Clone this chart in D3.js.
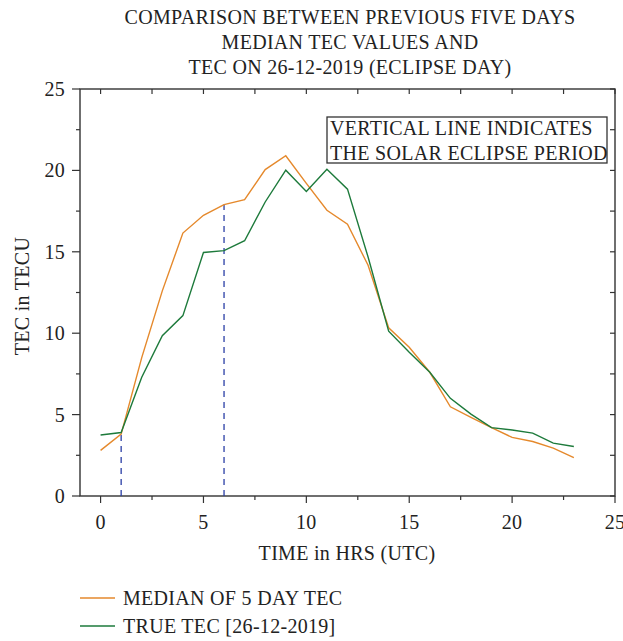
<!DOCTYPE html>
<html>
<head>
<meta charset="utf-8">
<script src="https://cdn.jsdelivr.net/npm/d3@7"></script>
<style>
  body { margin: 0; background: #fff; }
  svg text { font-family: "Liberation Serif", "Times New Roman", serif; fill: #222; font-size: 20px; letter-spacing: 0.3px; }
</style>
</head>
<body>
<svg width="623" height="641"></svg>
<script>
// hourly TEC
const hours = [0, 1, 2, 3, 4, 5, 6, 7, 8, 9, 10, 11, 12, 13, 14, 15, 16, 17, 18, 19, 20, 21, 22, 23]
const medianTec = [2.8, 3.8, 8.5, 12.6, 16.15, 17.24, 17.9, 18.2, 20.05, 20.9, 19.2, 17.55, 16.7, 14.17, 10.33, 9.14, 7.6, 5.48, 4.83, 4.2, 3.6, 3.35, 2.94, 2.36]
const trueTec = [3.75, 3.9, 7.3, 9.85, 11.08, 14.96, 15.07, 15.68, 18.06, 20.01, 18.7, 20.07, 18.85, 14.68, 10.12, 8.83, 7.6, 6.0, 5.03, 4.2, 4.05, 3.86, 3.25, 3.04]
const eclipseHours = [1, 6]
const xTicks = [0, 5, 10, 15, 20, 25]
const yTicks = [0, 5, 10, 15, 20, 25]
const minorTicks = [0, 2.5, 5, 7.5, 10, 12.5, 15, 17.5, 20, 22.5, 25]
const titleLines = ["COMPARISON BETWEEN PREVIOUS FIVE DAYS", "MEDIAN TEC VALUES AND", "TEC ON 26-12-2019 (ECLIPSE DAY)"]
const noteLines = ["VERTICAL LINE INDICATES", "THE SOLAR ECLIPSE PERIOD"]
const seriesNames = ["MEDIAN OF 5 DAY TEC", "TRUE TEC [26-12-2019]"]

const orange = "#e5892c", green = "#1d7a3b", blue = "#2b3fa6", frame = "#333"

const svg = d3.select("svg")
const pLeft = 80, pRight = 615, pTop = 89, pBottom = 496

const x = d3.scaleLinear().domain([-1, 25]).range([pLeft, pRight])
const y = d3.scaleLinear().domain([0, 25]).range([pBottom, pTop])

// title
svg.append("g").selectAll("text")
  .data(titleLines)
  .enter().append("text")
  .attr("x", 350)
  .attr("y", (d, i) => 24 + i * 25)
  .attr("text-anchor", "middle")
  .text((d) => d)

// ticks on all sides: outward on left/bottom, inward on top/right
const tickG = svg.append("g").attr("stroke", frame).attr("stroke-width", 1.2)
minorTicks.forEach((t) => {
  const major = t % 5 === 0
  const len = major ? 7 : 4
  tickG.append("line").attr("x1", x(t)).attr("x2", x(t)).attr("y1", pBottom).attr("y2", pBottom + len)
  tickG.append("line").attr("x1", x(t)).attr("x2", x(t)).attr("y1", pTop).attr("y2", pTop + 5)
  tickG.append("line").attr("y1", y(t)).attr("y2", y(t)).attr("x1", pLeft).attr("x2", pLeft - (major ? 8 : 4))
  tickG.append("line").attr("y1", y(t)).attr("y2", y(t)).attr("x1", pRight).attr("x2", pRight - 5)
})

// frame
svg.append("rect")
  .attr("x", pLeft).attr("y", pTop)
  .attr("width", pRight - pLeft).attr("height", pBottom - pTop)
  .attr("fill", "none").attr("stroke", frame).attr("stroke-width", 1.4)

// tick labels
svg.append("g").selectAll("text")
  .data(xTicks)
  .enter().append("text")
  .attr("x", (d) => x(d))
  .attr("y", 529)
  .attr("text-anchor", "middle")
  .text((d) => d)

svg.append("g").selectAll("text")
  .data(yTicks)
  .enter().append("text")
  .attr("x", 65)
  .attr("y", (d) => y(d) + 7)
  .attr("text-anchor", "end")
  .text((d) => d)

// axis titles
svg.append("text")
  .attr("x", 347).attr("y", 560)
  .attr("text-anchor", "middle")
  .text("TIME in HRS (UTC)")

svg.append("text")
  .attr("transform", "translate(29,296) rotate(-90)")
  .attr("text-anchor", "middle")
  .text("TEC in TECU")

// eclipse period markers
svg.append("g").selectAll("line")
  .data(eclipseHours)
  .enter().append("line")
  .attr("x1", (d) => x(d)).attr("x2", (d) => x(d))
  .attr("y1", y(0))
  .attr("y2", (d) => y(medianTec[hours.indexOf(d)]))
  .attr("stroke", blue)
  .attr("stroke-width", 1.3)
  .attr("stroke-dasharray", "6,5")

// series
const line = d3.line().x((d) => x(d[0])).y((d) => y(d[1]))

svg.append("path")
  .datum(hours.map((h, i) => [h, medianTec[i]]))
  .attr("d", line)
  .attr("fill", "none").attr("stroke", orange).attr("stroke-width", 1.4)

svg.append("path")
  .datum(hours.map((h, i) => [h, trueTec[i]]))
  .attr("d", line)
  .attr("fill", "none").attr("stroke", green).attr("stroke-width", 1.4)

// annotation box
svg.append("rect")
  .attr("x", 327).attr("y", 117)
  .attr("width", 280).attr("height", 46)
  .attr("fill", "#fff").attr("stroke", frame).attr("stroke-width", 1.3)

svg.append("g").selectAll("text")
  .data(noteLines)
  .enter().append("text")
  .attr("x", 330)
  .attr("y", (d, i) => 135 + i * 25)
  .text((d) => d)

// legend
const legend = svg.append("g").selectAll("g")
  .data(seriesNames)
  .enter().append("g")
  .attr("transform", (d, i) => "translate(0," + (598 + i * 28) + ")")

legend.append("line")
  .attr("x1", 80).attr("x2", 115)
  .attr("stroke", (d, i) => [orange, green][i])
  .attr("stroke-width", 1.4)

legend.append("text")
  .attr("x", 123).attr("y", 7)
  .text((d) => d)
</script>
</body>
</html>
